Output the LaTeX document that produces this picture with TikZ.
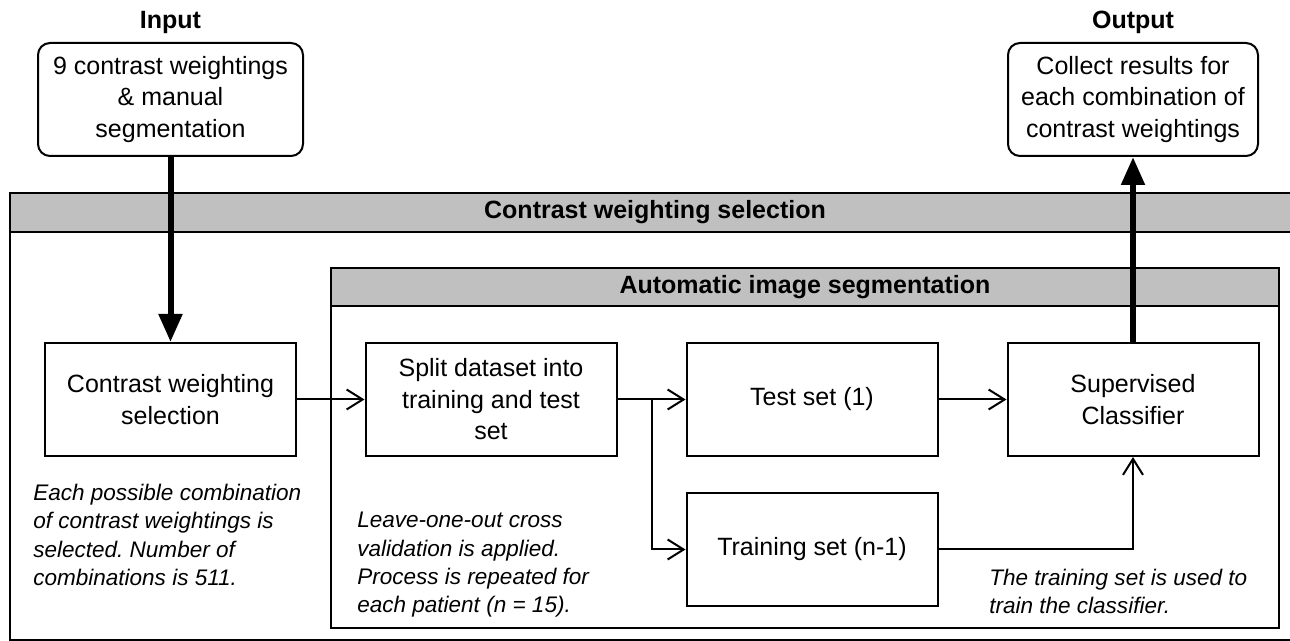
\documentclass[tikz,border=0pt]{standalone}
\usepackage{fontspec}
\setmainfont{Liberation Sans}
\usetikzlibrary{arrows.meta}

\definecolor{bandgray}{HTML}{C0C0C0}

\tikzset{
  stepbox/.style={draw, line width=1.5pt, minimum width=188.25pt, minimum height=84.75pt, align=center, inner sep=0.75pt, font=\fontsize{18.75}{23.6}\selectfont},
  endbox/.style={draw, rounded corners=9pt, line width=1.5pt, minimum height=84.75pt, align=center, inner sep=0.75pt, font=\fontsize{18.75}{23.6}\selectfont},
  band/.style={draw, fill=bandgray, line width=1.5pt, inner sep=0pt, font=\fontsize{18.75}{23.6}\selectfont\bfseries},
  iolabel/.style={anchor=base, inner sep=0pt, font=\fontsize{18.75}{23.6}\selectfont\bfseries},
  note/.style={anchor=north west, align=left, inner sep=0pt, font=\fontsize{16.9}{21.2}\selectfont\itshape\frenchspacing},
  flow/.style={line width=1.5pt, -{Straight Barb[length=12pt,width=15pt]}},
  bigflow/.style={line width=4.5pt, -{Triangle[length=21pt,width=17pt]}}
}

\begin{document}
\begin{tikzpicture}[x=0.75pt,y=0.75pt,yscale=-1,xscale=1]

\useasboundingbox (0,0) rectangle (1290,641);
\clip (0,0) rectangle (1290,641);

\draw[line width=1.5pt] (10,193) rectangle (1300,640);

\node[band, minimum width=967.5pt, minimum height=29.25pt] (selband) at (655,212.5) {Contrast weighting selection};

\draw[line width=1.5pt] (331,268) rectangle (1279,628);

\node[band, minimum width=711pt, minimum height=28.5pt] (segband) at (805,287) {Automatic image segmentation};

\node[iolabel] (inlabel) at (170.5,29) {Input};

\node[iolabel] (outlabel) at (1133,29) {Output};

\node[endbox, minimum width=198.75pt] (inbox) at (170.5,99.5) {9 contrast weightings\\\& manual\\segmentation};

\node[endbox, minimum width=187.5pt] (outbox) at (1133,99.5) {Collect results for\\each combination of\\contrast weightings};

\node[stepbox] (cws) at (170.5,399.5) {Contrast weighting\\selection};

\node[stepbox] (split) at (491,399.5) {Split dataset into\\training and test\\set};

\node[stepbox] (test) at (812,399.5) {Test set (1)};

\node[stepbox] (sup) at (1133,399.5) {Supervised\\Classifier};

\node[stepbox] (train) at (812,549.5) {Training set (n-1)};

\coordinate (fork) at (652,399.5);

\draw[flow] (cws) -- (split);

\draw[flow] (split) -- (test);

\draw[flow] (fork) |- (train);

\draw[flow] (test) -- (sup);

\draw[flow] (train) -| (sup);

\draw[bigflow] (inbox) -- (cws);

\draw[bigflow] (sup) -- (outbox);

\node[note] (cwsnote) at (33,484) {Each possible combination\\of contrast weightings is\\selected. Number of\\combinations is 511.};

\node[note] (loonote) at (357,512) {Leave-one-out cross\\validation is applied.\\Process is repeated for\\each patient (n = 15).};

\node[note] (trainnote) at (989,569) {The training set is used to\\train the classifier.};

\end{tikzpicture}
\end{document}
